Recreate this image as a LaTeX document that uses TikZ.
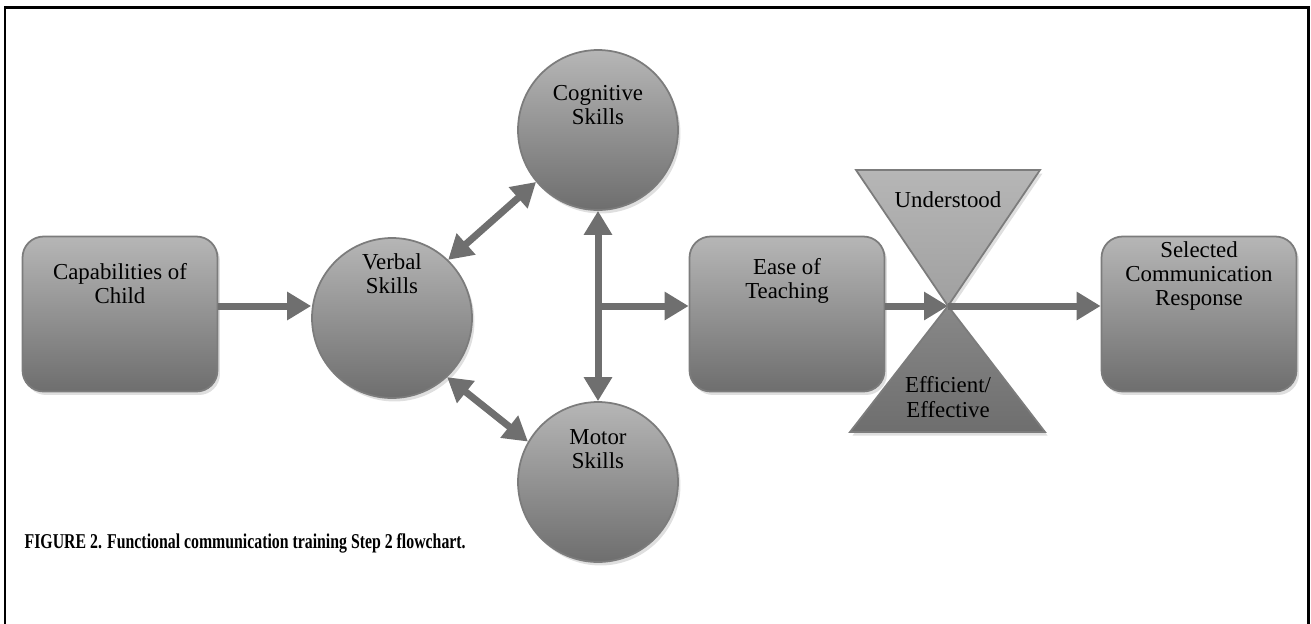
\documentclass[tikz,border=0pt]{standalone}
\usepackage{fontspec}
\setmainfont{Liberation Serif}
\usetikzlibrary{arrows.meta, shadows}

\definecolor{shadetop}{HTML}{B6B6B6}
\definecolor{shademid}{HTML}{A0A0A0}
\definecolor{shadebot}{HTML}{6E6E6E}
\definecolor{rimgray}{HTML}{7C7C7C}
\definecolor{arrowgray}{HTML}{6F6F6F}

\tikzset{
  softshadow/.style={drop shadow={opacity=0.25, shadow xshift=0.05cm, shadow yshift=-0.07cm}},
  skillbox/.style={draw=rimgray, line width=1pt, rounded corners=0.42cm,
    minimum width=3.9cm, minimum height=3.1cm,
    top color=shadetop, middle color=shademid, bottom color=shadebot, softshadow},
  skill/.style={circle, draw=rimgray, line width=1pt, minimum size=3.2cm, inner sep=0pt,
    top color=shadetop, middle color=shademid, bottom color=shadebot, softshadow},
  lbl/.style={align=center, font=\fontsize{13}{13.8}\selectfont},
  flow/.style={draw=arrowgray, line width=0.14cm, -{Triangle[length=0.48cm, width=0.54cm]}},
  twoway/.style={draw=arrowgray, line width=0.14cm,
    {Triangle[length=0.48cm, width=0.54cm]}-{Triangle[length=0.48cm, width=0.54cm]}},
}

\begin{document}
\begin{tikzpicture}[x=0.02cm, y=-0.02cm]
    \useasboundingbox (0,0) rectangle (1311,623);

    % Frame (open at the bottom)
    \draw[line width=0.06cm] (5,630) -- (5,7) -- (1308,7) -- (1308,630);

    % Boxes
    \node[skillbox, label={[lbl, yshift=0.61cm]center:Capabilities of\\Child}] (cap) at (120,314) {};
    \node[skillbox, label={[lbl, yshift=0.66cm]center:Ease of\\Teaching}] (ease) at (787,314) {};
    \node[skillbox, label={[lbl, yshift=0.76cm]center:Selected\\Communication\\Response}] (sel) at (1199,314) {};

    % Skill circles
    \node[skill, label={[lbl, yshift=0.88cm]center:Verbal\\Skills}] (verbal) at (392,318) {};
    \node[skill, label={[lbl, yshift=0.5cm]center:Cognitive\\Skills}] (cog) at (598,130) {};
    \node[skill, label={[lbl, yshift=0.66cm]center:Motor\\Skills}] (motor) at (598,482) {};

    % Bow tie
    \coordinate (row) at (0,306);
    \coordinate (bow) at (948,306);
    \path[draw=rimgray, line width=1pt, top color=shadetop, bottom color=shademid, softshadow]
        (856,170) -- (1040,170) -- (bow) -- cycle;
    \path[draw=rimgray, line width=1pt, top color=shademid!85!black, bottom color=shadebot, softshadow]
        (bow) -- (1045,432) -- (850,432) -- cycle;
    \node[lbl] (understood) at (948,200) {Understood};
    \node[lbl] (efficient) at (948,397) {Efficient/\\Effective};

    % Arrows
    \draw[flow] (cap.east |- row) -- (verbal.west |- row);
    \draw[twoway] (verbal.46) -- (cog.220);
    \draw[twoway] (verbal.-47) -- (motor.150);
    \draw[twoway] (cog.south) -- (motor.north);
    \coordinate (branch) at (cog.south |- row);
    \draw[flow] (branch) -- (ease.west |- row);
    \draw[flow] (ease.east |- row) -- (bow);
    \draw[flow] (bow) -- (sel.west |- row);

    % Caption
    \node[anchor=west, font=\bfseries\fontsize{12}{14}\selectfont, xscale=0.75] (caption)
        at (20,543) {FIGURE 2. Functional communication training Step 2 flowchart.};
\end{tikzpicture}
\end{document}
